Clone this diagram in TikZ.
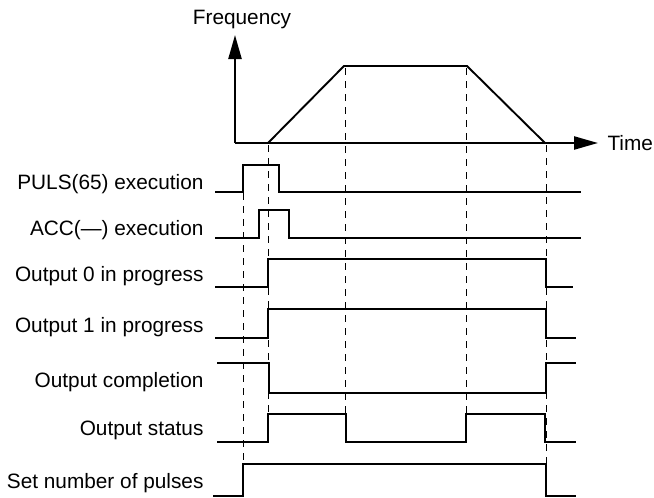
\documentclass[tikz,border=0pt]{standalone}
\usepackage{fontspec}
\setmainfont{Liberation Sans}
\usetikzlibrary{arrows.meta}

\begin{document}
\begin{tikzpicture}[x=1pt,y=-1pt,
  sig/.style={line width=1.9pt},
  axis/.style={line width=2.3pt,-{Triangle[length=24pt,width=13pt]}},
  guide/.style={line width=0.8pt,dash pattern=on 7pt off 6pt},
  lab/.style={font=\fontsize{20.8}{25}\selectfont}]
\useasboundingbox (0,0) rectangle (654,498);
% frequency / time axes
\coordinate (o) at (235,143);
\coordinate (ftop) at (235,35);
\coordinate (tend) at (598,143);
\node[lab] (freq) at (242,20) {Frequency};
\node[lab,anchor=west] (time) at (604,143) {Time};
\draw[axis] (o) -- (ftop);
\draw[axis] (o) -- (tend);
\draw[sig] (268,143) -- (344,66) -- (467,66) -- (545,143);
% guide lines
\foreach \x/\a/\b in {243/193/464,268/145/414,345/68/414,466/68/414,546/145/464}
  \draw[guide] (\x,\a) -- (\x,\b);
% signal names
\foreach \n/\y/\lab in {puls/184/PULS(65) execution,acc/230/ACC(---) execution,
  outA/276/Output 0 in progress,outB/327/Output 1 in progress,done/382/Output completion,
  stat/430/Output status,setn/483/Set number of pulses}
  \node[lab,anchor=east] (\n) at (207,\y) {\lab};
% signals
\draw[sig] (215,192) -- (243,192) -- (243,165) -- (279,165) -- (279,192) -- (581,192);
\draw[sig] (215,238) -- (259,238) -- (259,210) -- (289,210) -- (289,238) -- (581,238);
\draw[sig] (215,287) -- (268,287) -- (268,259) -- (546,259) -- (546,287) -- (573,287);
\draw[sig] (215,338) -- (268,338) -- (268,309) -- (546,309) -- (546,338) -- (576,338);
\draw[sig] (217,363) -- (269,363) -- (269,393) -- (546,393) -- (546,363) -- (576,363);
\draw[sig] (217,442) -- (268,442) -- (268,414) -- (346,414) -- (346,442) -- (466,442)
  -- (466,414) -- (545,414) -- (545,442) -- (576,442);
\draw[sig] (213,496) -- (243,496) -- (243,464) -- (546,464) -- (546,496) -- (576,496);
\end{tikzpicture}
\end{document}
